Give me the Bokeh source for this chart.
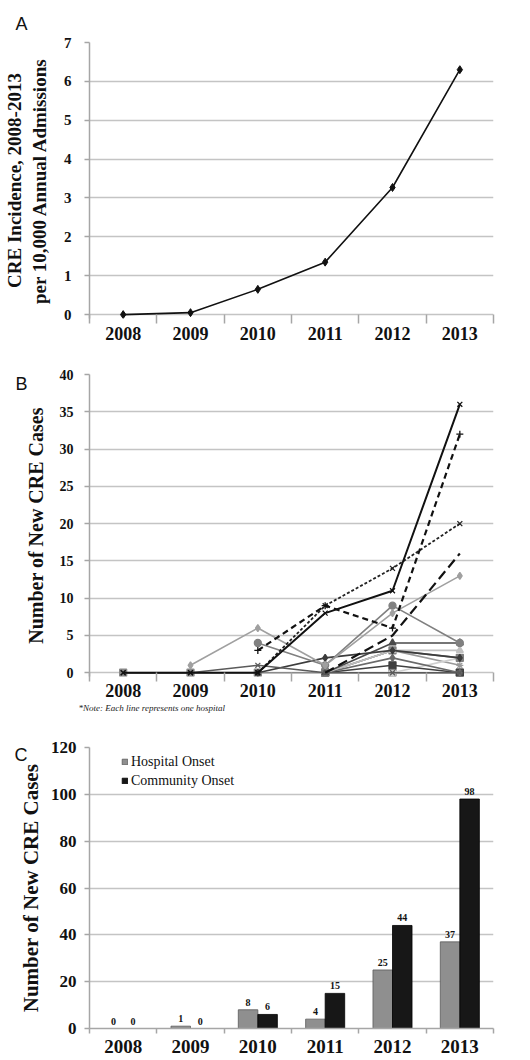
import numpy as np
from bokeh.plotting import figure
from bokeh.layouts import column
from bokeh.models import (FixedTicker, Legend, LegendItem, ColumnDataSource,
                          LabelSet, Range1d, Title)
from bokeh.embed import file_html
from bokeh.resources import INLINE

nan = float("nan")

# ---------------- data ----------------
years = ["2008", "2009", "2010", "2011", "2012", "2013"]

# Panel A: CRE incidence per 10,000 admissions
incidence = [0.0, 0.05, 0.65, 1.35, 3.27, 6.3]

# Panel B: new CRE cases per hospital (each list = one hospital)
hosp01 = [0, 0, 0, 8, 11, 36]
hosp02 = [nan, nan, 3, 9, 6, 32]
hosp03 = [nan, nan, 0, 9, 14, 20]
hosp04 = [nan, nan, nan, 0, 5, 16]
hosp05 = [nan, 1, 6, 1, 8, 13]
hosp06 = [nan, nan, 4, 1, 9, 4]
hosp07 = [0, 0, 1, 0, 0, 0]
hosp08 = [nan, nan, 0, 2, 3, 2]
hosp09 = [nan, nan, nan, 0, 4, 4]
hosp10 = [nan, nan, nan, 0, 3, 3]
hosp11 = [nan, nan, nan, 0, 3, 2]
hosp12 = [nan, nan, nan, 0, 2, 0]
hosp13 = [nan, nan, nan, 0, 1, 0]
hosp14 = [nan, nan, nan, 0, 0, 2]
hosp15 = [nan, nan, nan, 0, 3, 1]
hosp16 = [0, 0, 0, 0, 0, 0]

# Panel C: onset type
hospital_onset = [0, 1, 8, 4, 25, 37]
community_onset = [0, 0, 6, 15, 44, 98]

# ---------------- styling helpers ----------------
SERIF = "Liberation Serif"
SANS = "Liberation Sans"
GRID = "#c4c4c4"
AXIS = "#a6a6a6"
W = 530

xc = [i + 0.5 for i in range(len(years))]
overrides = {x: y for x, y in zip(xc, years)}
bounds = [float(i) for i in range(len(years) + 1)]


def base_fig(height, yr, yticks, borders, xfs, yfs, xstand, ystand):
    l, r, t, b = borders
    p = figure(width=W, height=height, x_range=Range1d(0, len(years)), y_range=yr,
               output_backend="svg", toolbar_location=None,
               min_border_left=l, min_border_right=r, min_border_top=t, min_border_bottom=b)
    p.outline_line_color = None
    p.xgrid.visible = False
    p.ygrid.ticker = FixedTicker(ticks=yticks)
    p.ygrid.grid_line_color = GRID
    p.ygrid.grid_line_width = 1.5
    xa = p.xaxis[0]
    xa.ticker = FixedTicker(ticks=xc, minor_ticks=bounds)
    xa.major_label_overrides = overrides
    xa.major_tick_out = 0
    xa.major_tick_in = 0
    xa.minor_tick_out = 5
    xa.minor_tick_line_color = AXIS
    xa.minor_tick_line_width = 1.5
    xa.axis_line_color = AXIS
    xa.axis_line_width = 1.5
    xa.major_label_text_font = SERIF
    xa.major_label_text_font_style = "bold"
    xa.major_label_text_font_size = xfs
    xa.major_label_text_color = "#111111"
    xa.major_label_standoff = xstand
    ya = p.yaxis[0]
    ya.ticker = FixedTicker(ticks=yticks)
    ya.minor_tick_line_color = None
    ya.major_tick_out = 5
    ya.major_tick_in = 0
    ya.major_tick_line_color = AXIS
    ya.major_tick_line_width = 1.5
    ya.axis_line_color = AXIS
    ya.axis_line_width = 1.5
    ya.major_label_text_font = SERIF
    ya.major_label_text_font_style = "bold"
    ya.major_label_text_font_size = yfs
    ya.major_label_text_color = "#111111"
    ya.major_label_standoff = ystand
    ya.axis_label_text_font = SERIF
    ya.axis_label_text_font_style = "bold"
    ya.axis_label_text_color = "#111111"
    return p


def panel_letter(p, text, offset, standoff):
    p.add_layout(Title(text=text, align="left", offset=offset, standoff=standoff,
                       vertical_align="bottom", text_font=SANS, text_font_size="18px",
                       text_font_style="normal", text_color="#111111"), "above")


# ---------------- Panel A ----------------
pA = base_fig(346, Range1d(-0.1, 7), list(range(0, 8)), (82, 32, 42, 28),
              "18px", "15px", 3, 13)
pA.xaxis.axis_line_color = None
pA.xaxis.minor_tick_in = 4
pA.yaxis.axis_label = "CRE Incidence, 2008-2013\nper 10,000 Annual Admissions"
pA.yaxis.axis_label_text_font_size = "19px"
pA.yaxis.axis_label_standoff = 11
pA.line(xc, incidence, line_color="#111111", line_width=1.6)
pA.scatter(xc, incidence, marker="diamond", size=8, color="#111111")
panel_letter(pA, "A", -74, 17)

# ---------------- Panel B ----------------
hospitals = [hosp01, hosp02, hosp03, hosp04, hosp05, hosp06, hosp07, hosp08,
             hosp09, hosp10, hosp11, hosp12, hosp13, hosp14, hosp15, hosp16]
styles = [
    ("#111111", "solid", 2.0, "x"),
    ("#111111", "6 4", 2.2, "cross"),
    ("#222222", "3 2", 1.8, "x"),
    ("#111111", "10 5", 2.2, None),
    ("#a0a0a0", "solid", 1.6, "diamond"),
    ("#808080", "solid", 1.6, "circle"),
    ("#5a5a5a", "solid", 1.6, "x"),
    ("#3c3c3c", "solid", 1.6, "diamond"),
    ("#4a4a4a", "solid", 1.6, "triangle"),
    ("#c0c0c0", "solid", 1.6, "triangle"),
    ("#808080", "solid", 1.6, "square"),
    ("#6a6a6a", "solid", 1.6, "diamond"),
    ("#404040", "solid", 1.6, "square"),
    ("#cfcfcf", "solid", 1.6, "circle"),
    ("#9a9a9a", "solid", 1.6, "asterisk"),
    ("#8a8a8a", "solid", 1.6, "square"),
]
pB = base_fig(370, Range1d(-0.5, 40), list(range(0, 41, 5)), (76, 37, 28, 40),
              "18px", "14px", 2, 11)
pB.xaxis.axis_line_color = None
pB.xaxis.minor_tick_in = 4
pB.yaxis.axis_label = "Number of New CRE Cases"
pB.yaxis.axis_label_text_font_size = "20px"
pB.yaxis.axis_label_standoff = 10
for ys, (col, dash, lw, mk) in reversed(list(zip(hospitals, styles))):
    arr = np.array(ys, dtype=float)
    pB.line(xc, arr, line_color=col, line_dash=dash, line_width=lw)
    if mk:
        pB.scatter(xc, arr, marker=mk, size=7, line_color=col, fill_color=col, line_width=1.3)
pB.add_layout(Title(text="*Note:  Each line represents one hospital", text_font=SERIF,
                    text_font_style="italic", text_font_size="9px", align="left",
                    offset=-11, text_color="#222222", standoff=2), "below")
panel_letter(pB, "B", -74, -38)

# ---------------- Panel C ----------------
pC = base_fig(342, Range1d(0, 120), list(range(0, 121, 20)), (87, 11, 31, 30),
              "19px", "17px", 6, 8)
pC.yaxis.axis_label = "Number of New CRE Cases"
pC.yaxis.axis_label_text_font_size = "21px"
pC.yaxis.axis_label_standoff = 5
bw = 0.29
src = ColumnDataSource(dict(
    xh=[x - bw / 2 for x in xc], xcm=[x + bw / 2 for x in xc],
    h=hospital_onset, c=community_onset,
    ht=[str(v) for v in hospital_onset], ct=[str(v) for v in community_onset]))
rh = pC.vbar(x="xh", top="h", width=bw, source=src, fill_color="#8f8f8f",
             line_color="#5a5a5a", line_width=0.8)
rc = pC.vbar(x="xcm", top="c", width=bw, source=src, fill_color="#171717",
             line_color="#000000", line_width=0.8)
for xk, yk, tk in (("xh", "h", "ht"), ("xcm", "c", "ct")):
    pC.add_layout(LabelSet(x=xk, y=yk, text=tk, source=src, y_offset=4,
                           text_align="center", text_baseline="bottom",
                           text_font=SERIF, text_font_style="bold",
                           text_font_size="10px", text_color="#111111"))
legend = Legend(items=[LegendItem(label="Hospital Onset", renderers=[rh]),
                       LegendItem(label="Community Onset", renderers=[rc])],
                location=(32, 238), padding=0, margin=0, spacing=0,
                label_height=19, glyph_height=7, glyph_width=7, label_standoff=3,
                label_text_font=SERIF, label_text_font_size="14px",
                label_text_color="#111111",
                border_line_color=None, background_fill_alpha=0)
pC.add_layout(legend)
panel_letter(pC, "C", -75, -34)

layout = column(pA, pB, pC, spacing=0)
open("out.html", "w").write(file_html(layout, INLINE))
